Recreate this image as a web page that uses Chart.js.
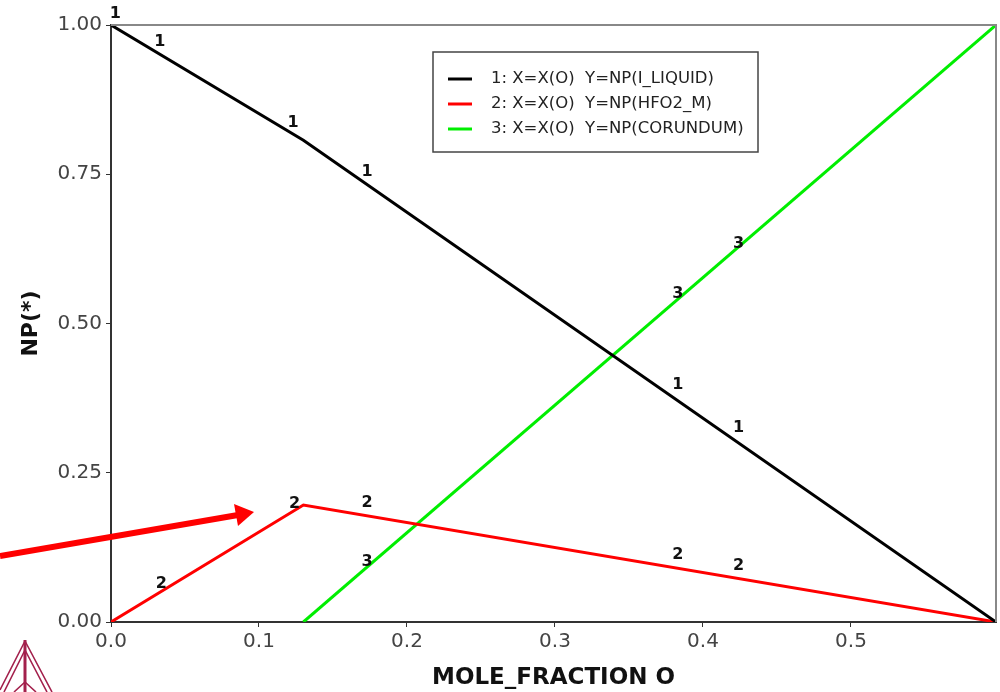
<html>
<head>
<meta charset="utf-8">
<script src="https://cdn.jsdelivr.net/npm/chart.js@4.4.1/dist/chart.umd.min.js"></script>
<style>
  body { margin:0; background:#fff; }
  #wrap { width:1000px; height:692px; }
</style>
</head>
<body>
<div id="wrap"><canvas id="myChart" width="1000" height="692"></canvas></div>
<script>
// series values (x = mole fraction O, y = NP)
var liquidX = [0, 0.13, 0.598];
var liquidY = [1.0, 0.807, 0];
var hfo2X = [0, 0.13, 0.598];
var hfo2Y = [0, 0.196, 0];
var corundumX = [0.13, 0.598];
var corundumY = [0, 1.0];

var seriesNames = ['1: X=X(O)  Y=NP(I_LIQUID)', '2: X=X(O)  Y=NP(HFO2_M)', '3: X=X(O)  Y=NP(CORUNDUM)'];
var seriesColors = ['#000000', '#ff0000', '#00ee00'];

// curve number labels [text, x, y]
var curveLabels = [
  ['1', 0.003, 1.018], ['1', 0.033, 0.972], ['1', 0.123, 0.836], ['1', 0.173, 0.754], ['1', 0.383, 0.397], ['1', 0.424, 0.325],
  ['2', 0.034, 0.064], ['2', 0.124, 0.198], ['2', 0.173, 0.199], ['2', 0.383, 0.112], ['2', 0.424, 0.094],
  ['3', 0.173, 0.10], ['3', 0.383, 0.55], ['3', 0.424, 0.633]
];

var xTicks = [0, 0.1, 0.2, 0.3, 0.4, 0.5];
var yTicks = [0, 0.25, 0.5, 0.75, 1.0];

function pts(xs, ys) {
  var out = [];
  for (var i = 0; i < xs.length; i++) out.push({x: xs[i], y: ys[i]});
  return out;
}

var extras = {
  id: 'extras',
  afterDatasetsDraw: function(chart) {
    var ctx = chart.ctx, ca = chart.chartArea;
    var sx = chart.scales.x, sy = chart.scales.y;
    ctx.save();
    // frame top / right
    ctx.strokeStyle = '#888';
    ctx.lineWidth = 2;
    ctx.beginPath();
    ctx.moveTo(ca.left, ca.top); ctx.lineTo(ca.right, ca.top); ctx.lineTo(ca.right, ca.bottom);
    ctx.stroke();
    // curve labels
    ctx.fillStyle = '#111';
    ctx.font = 'bold 16px "DejaVu Sans"';
    ctx.textAlign = 'center';
    ctx.textBaseline = 'middle';
    curveLabels.forEach(function(l) {
      ctx.fillText(l[0], sx.getPixelForValue(l[1]), sy.getPixelForValue(l[2]));
    });
    // legend box
    var lx = 433, ly = 52, lw = 325, lh = 100;
    ctx.fillStyle = '#fff';
    ctx.fillRect(lx, ly, lw, lh);
    ctx.strokeStyle = '#444';
    ctx.lineWidth = 1.5;
    ctx.strokeRect(lx, ly, lw, lh);
    ctx.font = '16.5px "DejaVu Sans"';
    ctx.textAlign = 'left';
    chart.data.datasets.forEach(function(ds, i) {
      var yy = 79 + i * 25;
      ctx.strokeStyle = ds.borderColor;
      ctx.lineWidth = 3;
      ctx.beginPath(); ctx.moveTo(448, yy); ctx.lineTo(472, yy); ctx.stroke();
      ctx.fillStyle = '#222';
      ctx.fillText(ds.label, 491, yy);
    });
    // red arrow
    ctx.strokeStyle = '#ff0000';
    ctx.fillStyle = '#ff0000';
    ctx.lineWidth = 6;
    ctx.beginPath(); ctx.moveTo(0, 556); ctx.lineTo(238, 515); ctx.stroke();
    ctx.beginPath();
    ctx.moveTo(254, 512);
    ctx.lineTo(234, 504);
    ctx.lineTo(238, 526);
    ctx.closePath(); ctx.fill();
    // logo
    ctx.strokeStyle = '#a3204c';
    ctx.lineWidth = 1.6;
    ctx.beginPath();
    ctx.moveTo(25, 641); ctx.lineTo(0, 690);
    ctx.moveTo(25, 650); ctx.lineTo(4, 692);
    ctx.moveTo(25, 641); ctx.lineTo(52, 692);
    ctx.moveTo(25, 650); ctx.lineTo(47, 692);
    ctx.moveTo(25, 682); ctx.lineTo(14, 692);
    ctx.moveTo(25, 682); ctx.lineTo(36, 692);
    ctx.stroke();
    ctx.lineWidth = 3;
    ctx.beginPath(); ctx.moveTo(25, 640); ctx.lineTo(25, 692); ctx.stroke();
    ctx.restore();
  }
};

var ctx = document.getElementById('myChart').getContext('2d');
var chart = new Chart(ctx, {
  type: 'scatter',
  data: {
    datasets: [
      { label: seriesNames[0], data: pts(liquidX, liquidY), borderColor: seriesColors[0], showLine: true, pointRadius: 0, borderWidth: 3 },
      { label: seriesNames[1], data: pts(hfo2X, hfo2Y), borderColor: seriesColors[1], showLine: true, pointRadius: 0, borderWidth: 3 },
      { label: seriesNames[2], data: pts(corundumX, corundumY), borderColor: seriesColors[2], showLine: true, pointRadius: 0, borderWidth: 3 }
    ]
  },
  options: {
    responsive: false,
    animation: false,
    layout: { padding: { top: 25, right: 4, left: 0, bottom: 0 } },
    plugins: { legend: { display: false }, tooltip: { enabled: false } },
    scales: {
      x: {
        type: 'linear', min: 0, max: 0.598,
        afterBuildTicks: function(s) { s.ticks = xTicks.map(function(v) { return {value: v}; }); },
        afterFit: function(s) { s.height = 70; },
        ticks: { color: '#444', font: { family: 'DejaVu Sans', size: 20 }, padding: 3, maxRotation: 0,
                 callback: function(v) { return v.toFixed(1); } },
        grid: { drawOnChartArea: false, tickLength: 5, color: '#333' },
        border: { color: '#333', width: 2 },
        title: { display: true, text: 'MOLE_FRACTION O', color: '#111', font: { family: 'DejaVu Sans', size: 23, weight: 'bold' }, padding: { top: 0, bottom: 0 } }
      },
      y: {
        type: 'linear', min: 0, max: 1.0,
        afterBuildTicks: function(s) { s.ticks = yTicks.map(function(v) { return {value: v}; }); },
        afterFit: function(s) { s.width = 111; },
        ticks: { color: '#444', font: { family: 'DejaVu Sans', size: 20 }, padding: 4,
                 callback: function(v) { return v.toFixed(2); } },
        grid: { drawOnChartArea: false, tickLength: 5, color: '#333' },
        border: { color: '#333', width: 2 },
        title: { display: true, text: 'NP(*)', color: '#111', font: { family: 'DejaVu Sans', size: 22, weight: 'bold' }, padding: { top: 18, bottom: 0 } }
      }
    }
  },
  plugins: [extras]
});
</script>
</body>
</html>
